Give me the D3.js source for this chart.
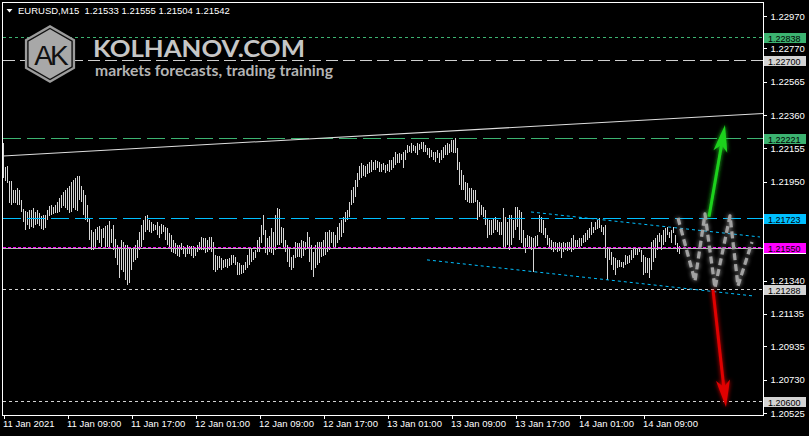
<!DOCTYPE html>
<html><head><meta charset="utf-8">
<script src="https://cdn.jsdelivr.net/npm/d3@7"></script>
<style>
html,body{margin:0;padding:0;background:#000;overflow:hidden}
text{font-family:"Liberation Sans",Arial,sans-serif}
</style></head>
<body>
<script>
// ---------- DATA ----------
const symbolTitle = "EURUSD,M15  1.21533 1.21555 1.21504 1.21542";
const brandName = "KOLHANOV.COM";
const brandTagline = "markets forecasts, trading training";

// M15 bar highs / lows (bar index 0 = 11 Jan 2021 first bar)
const highs = [
1.22188,1.22040,1.22047,1.21954,1.21954,1.21899,1.21899,1.21911,1.21899,1.21837,
1.21782,1.21769,1.21763,1.21776,1.21776,1.21788,1.21763,1.21776,1.21757,1.21739,
1.21745,1.21745,1.21776,1.21800,1.21806,1.21794,1.21806,1.21825,1.21849,1.21868,
1.21886,1.21899,1.21911,1.21923,1.21948,1.21960,1.21973,1.21985,1.21985,1.21923,
1.21899,1.21868,1.21806,1.21720,1.21652,1.21640,1.21659,1.21671,1.21677,1.21659,
1.21665,1.21677,1.21683,1.21708,1.21659,1.21683,1.21597,1.21560,1.21542,1.21591,
1.21578,1.21560,1.21560,1.21542,1.21542,1.21542,1.21560,1.21591,1.21640,1.21683,
1.21714,1.21739,1.21745,1.21714,1.21702,1.21689,1.21683,1.21702,1.21677,1.21689,
1.21683,1.21671,1.21665,1.21634,1.21622,1.21591,1.21572,1.21560,1.21560,1.21572,
1.21554,1.21542,1.21560,1.21554,1.21554,1.21554,1.21548,1.21560,1.21578,1.21609,
1.21603,1.21603,1.21591,1.21609,1.21609,1.21578,1.21498,1.21492,1.21492,1.21480,
1.21468,1.21474,1.21474,1.21480,1.21498,1.21498,1.21486,1.21455,1.21449,1.21437,
1.21437,1.21455,1.21498,1.21548,1.21542,1.21517,1.21529,1.21591,1.21609,1.21683,
1.21745,1.21652,1.21603,1.21615,1.21665,1.21640,1.21745,1.21788,1.21782,1.21671,
1.21665,1.21591,1.21560,1.21542,1.21486,1.21498,1.21578,1.21572,1.21572,1.21591,
1.21585,1.21578,1.21640,1.21609,1.21560,1.21517,1.21560,1.21578,1.21578,1.21578,
1.21591,1.21640,1.21640,1.21652,1.21640,1.21640,1.21622,1.21671,1.21695,1.21714,
1.21732,1.21763,1.21776,1.21825,1.21899,1.21917,1.21960,1.22003,1.22047,1.22065,
1.22053,1.22047,1.22059,1.22071,1.22084,1.22071,1.22084,1.22077,1.22071,1.22059,
1.22065,1.22053,1.22059,1.22084,1.22084,1.22102,1.22133,1.22120,1.22127,1.22120,
1.22133,1.22145,1.22176,1.22170,1.22188,1.22176,1.22170,1.22188,1.22182,1.22194,
1.22194,1.22176,1.22157,1.22157,1.22145,1.22133,1.22133,1.22145,1.22127,1.22145,
1.22164,1.22176,1.22188,1.22182,1.22207,1.22207,1.22219,1.22157,1.22071,1.22022,
1.21991,1.21948,1.21942,1.21911,1.21911,1.21899,1.21899,1.21837,1.21825,1.21806,
1.21794,1.21776,1.21726,1.21714,1.21714,1.21726,1.21732,1.21714,1.21702,1.21702,
1.21788,1.21732,1.21702,1.21745,1.21745,1.21714,1.21794,1.21794,1.21776,1.21763,
1.21652,1.21603,1.21622,1.21615,1.21609,1.21603,1.21615,1.21622,1.21745,1.21732,
1.21714,1.21665,1.21622,1.21603,1.21591,1.21578,1.21578,1.21572,1.21578,1.21572,
1.21578,1.21572,1.21578,1.21578,1.21603,1.21622,1.21591,1.21591,1.21603,1.21603,
1.21622,1.21634,1.21652,1.21665,1.21702,1.21671,1.21702,1.21714,1.21726,1.21683,
1.21671,1.21683,1.21548,1.21542,1.21517,1.21486,1.21480,1.21468,1.21468,1.21455,
1.21455,1.21498,1.21492,1.21498,1.21529,1.21548,1.21548,1.21542,1.21548,1.21529,
1.21498,1.21486,1.21480,1.21480,1.21578,1.21591,1.21603,1.21622,1.21634,1.21622,
1.21652,1.21665,1.21671,1.21640,1.21652,1.21671,1.21622,1.21572,1.21555
];
const lows = [
1.21973,1.21954,1.21942,1.21819,1.21806,1.21819,1.21819,1.21806,1.21806,1.21763,
1.21702,1.21652,1.21683,1.21659,1.21671,1.21665,1.21683,1.21689,1.21677,1.21659,
1.21652,1.21665,1.21714,1.21739,1.21745,1.21751,1.21757,1.21757,1.21763,1.21788,
1.21800,1.21788,1.21776,1.21757,1.21763,1.21788,1.21776,1.21769,1.21837,1.21825,
1.21745,1.21714,1.21702,1.21591,1.21529,1.21529,1.21548,1.21591,1.21572,1.21548,
1.21603,1.21548,1.21548,1.21542,1.21572,1.21529,1.21480,1.21437,1.21357,1.21406,
1.21394,1.21344,1.21314,1.21326,1.21406,1.21455,1.21468,1.21480,1.21529,1.21548,
1.21591,1.21640,1.21652,1.21640,1.21634,1.21646,1.21652,1.21622,1.21603,1.21628,
1.21640,1.21591,1.21560,1.21542,1.21517,1.21511,1.21505,1.21492,1.21486,1.21529,
1.21505,1.21486,1.21505,1.21505,1.21492,1.21480,1.21492,1.21517,1.21529,1.21529,
1.21529,1.21511,1.21517,1.21529,1.21517,1.21406,1.21394,1.21406,1.21418,1.21406,
1.21418,1.21424,1.21418,1.21431,1.21437,1.21449,1.21437,1.21375,1.21375,1.21381,
1.21388,1.21406,1.21418,1.21437,1.21455,1.21468,1.21480,1.21517,1.21517,1.21572,
1.21622,1.21511,1.21498,1.21517,1.21511,1.21498,1.21529,1.21560,1.21560,1.21572,
1.21542,1.21517,1.21455,1.21424,1.21406,1.21418,1.21480,1.21486,1.21486,1.21480,
1.21492,1.21529,1.21542,1.21455,1.21406,1.21363,1.21418,1.21437,1.21449,1.21486,
1.21492,1.21498,1.21517,1.21529,1.21572,1.21542,1.21542,1.21572,1.21591,1.21609,
1.21634,1.21702,1.21714,1.21732,1.21806,1.21819,1.21856,1.21917,1.21960,1.21973,
1.21985,1.21979,1.21997,1.22003,1.22010,1.22022,1.22022,1.22034,1.22010,1.22010,
1.22022,1.22003,1.22016,1.22010,1.22022,1.22034,1.22053,1.22065,1.22065,1.22084,
1.22034,1.22084,1.22127,1.22133,1.22127,1.22139,1.22127,1.22114,1.22145,1.22151,
1.22133,1.22133,1.22114,1.22096,1.22102,1.22084,1.22071,1.22096,1.22065,1.22084,
1.22096,1.22114,1.22114,1.22127,1.22133,1.22127,1.22127,1.22022,1.21930,1.21899,
1.21899,1.21837,1.21825,1.21819,1.21819,1.21819,1.21825,1.21714,1.21732,1.21745,
1.21732,1.21683,1.21603,1.21622,1.21622,1.21634,1.21652,1.21640,1.21622,1.21622,
1.21542,1.21542,1.21560,1.21529,1.21560,1.21603,1.21652,1.21671,1.21591,1.21572,
1.21548,1.21511,1.21548,1.21542,1.21529,1.21394,1.21542,1.21554,1.21640,1.21634,
1.21622,1.21603,1.21560,1.21542,1.21529,1.21517,1.21529,1.21517,1.21523,1.21480,
1.21517,1.21529,1.21523,1.21529,1.21517,1.21529,1.21542,1.21548,1.21548,1.21554,
1.21572,1.21578,1.21591,1.21603,1.21622,1.21634,1.21652,1.21659,1.21665,1.21640,
1.21622,1.21480,1.21344,1.21468,1.21437,1.21406,1.21375,1.21418,1.21424,1.21424,
1.21418,1.21437,1.21443,1.21449,1.21468,1.21480,1.21498,1.21498,1.21517,1.21455,
1.21375,1.21388,1.21388,1.21357,1.21406,1.21455,1.21480,1.21529,1.21578,1.21529,
1.21560,1.21578,1.21622,1.21603,1.21572,1.21634,1.21560,1.21517,1.21504
];

// time axis (bar index of each label, 32 bars = 8 hours)
const timeTickBars = [0,32,64,96,128,160,192,224,256,288,320];
const timeTickLabels = ["11 Jan 2021","11 Jan 09:00","11 Jan 17:00","12 Jan 01:00","12 Jan 09:00",
  "12 Jan 17:00","13 Jan 01:00","13 Jan 09:00","13 Jan 17:00","14 Jan 01:00","14 Jan 09:00"];

// price axis
const priceTicks = [1.22970,1.22770,1.22565,1.22360,1.22155,1.21950,1.21340,1.21135,1.20935,1.20730,1.20525];

// horizontal levels
const levels = [1.22838,1.22700,1.22221,1.21723,1.21550,1.21288,1.20600];
const bidPrice = 1.21542;

// trend line (top)
const trendBars = [0,376];
const trendPrices = [1.22108,1.22367];
// channel lines
const chanUpperBars = [264,378.5];
const chanUpperPrices = [1.21763,1.21609];
const chanLowerBars = [212,375];
const chanLowerPrices = [1.21468,1.21246];

// forecast zig-zag
const scenarioBars = [337.5,346,351,356,363.5,367.5,374.5];
const scenarioPrices = [1.21726,1.21338,1.21751,1.21295,1.21739,1.21308,1.21578];
// arrows
const upArrowBars = [353,361];
const upArrowPrices = [1.21733,1.22299];
const downArrowBars = [355,361.5];
const downArrowPrices = [1.21283,1.20562];

// ---------- STYLES ----------
const levelStyles = [
  {stroke:"#3cb371", dash:"3,3", box:"#3cb371"},
  {stroke:"#d0d0d0", dash:"12,5", box:"#d3d3d3"},
  {stroke:"#3cb371", dash:"18,6", box:"#3cb371"},
  {stroke:"#00bfff", dash:"18,6", box:"#00bfff"},
  {stroke:"#ff00ff", dash:"3,2", box:"#ff00ff"},
  {stroke:"#d3d3d3", dash:"3,3", box:"#d3d3d3"},
  {stroke:"#d3d3d3", dash:"3,3", box:"#d3d3d3"}
];

// ---------- CHART ----------
const W = 809, H = 436;
const L = 3, R = 763, T = 3, B = 415;
const svg = d3.select("body").append("svg").attr("width",W).attr("height",H)
  .style("background","#000").style("display","block");

const defs = svg.append("defs");
defs.append("clipPath").attr("id","clip").append("rect")
  .attr("x",L).attr("y",T).attr("width",R-L).attr("height",B-T);
const glow = defs.append("filter").attr("id","glow").attr("x","-50%").attr("y","-50%").attr("width","200%").attr("height","200%");
glow.append("feGaussianBlur").attr("in","SourceGraphic").attr("stdDeviation",2.2).attr("result","b");
const fm = glow.append("feMerge");
fm.append("feMergeNode").attr("in","b");
fm.append("feMergeNode").attr("in","SourceGraphic");

const x = d3.scaleLinear().domain([0,380]).range([3,763]);
const y = d3.scaleLinear().domain([1.22970,1.20525]).range([16,413]);
const px = v => Math.round(v) + 0.5;

const plot = svg.append("g").attr("clip-path","url(#clip)");

// logo
const logo = svg.append("g");
const hex = (cx,cy,r) => d3.range(6).map(k => {
  const a = Math.PI/3*k - Math.PI/2;
  return [cx + r*Math.cos(a), cy + r*Math.sin(a)];
});
logo.append("polygon").attr("points",hex(50,54,29).join(" ")).attr("fill","#9c9c9c");
logo.append("polygon").attr("points",hex(50,54,25.5).join(" ")).attr("fill","#a8a8a8")
  .attr("stroke","#111").attr("stroke-width",1.4);
logo.append("text").attr("x",50).attr("y",65).attr("text-anchor","middle")
  .attr("font-size",28).attr("fill","#111").attr("letter-spacing",-3)
  .style("font-family","'Liberation Sans',Arial,sans-serif").text("AK");
logo.append("text").attr("x",93).attr("y",56.5).attr("font-size",22).attr("font-weight",700)
  .attr("fill","#c6c6c6").attr("textLength",212).attr("lengthAdjust","spacingAndGlyphs")
  .style("font-family","Lato,sans-serif").text(brandName);
logo.append("text").attr("x",95).attr("y",76).attr("font-size",14.5).attr("font-weight",700)
  .attr("fill","#b4b4b4").attr("textLength",238).attr("lengthAdjust","spacingAndGlyphs")
  .style("font-family","Lato,sans-serif").text(brandTagline);

// bars
plot.append("g").selectAll("line").data(highs).join("line")
  .attr("x1",(d,i)=>px(x(i))).attr("x2",(d,i)=>px(x(i)))
  .attr("y1",d=>Math.round(y(d)))
  .attr("y2",(d,i)=>Math.max(Math.round(y(lows[i])), Math.round(y(d))+1))
  .attr("stroke","#d6d6d6").attr("stroke-width",1).attr("shape-rendering","crispEdges");

// level lines
plot.append("g").selectAll("line").data(levels).join("line")
  .attr("x1",L).attr("x2",R)
  .attr("y1",d=>px(y(d))).attr("y2",d=>px(y(d)))
  .attr("stroke",(d,i)=>levelStyles[i].stroke)
  .attr("stroke-dasharray",(d,i)=>levelStyles[i].dash)
  .attr("stroke-width",1).attr("shape-rendering","crispEdges");

// bid line
plot.append("line").attr("x1",L).attr("x2",R)
  .attr("y1",px(y(bidPrice))).attr("y2",px(y(bidPrice)))
  .attr("stroke","#b8b8b8").attr("stroke-width",1).attr("shape-rendering","crispEdges");

// trend line (ray to the right)
const tSlope = (trendPrices[1]-trendPrices[0])/(trendBars[1]-trendBars[0]);
const xEnd = x.invert(R);
plot.append("line")
  .attr("x1",x(trendBars[0])).attr("y1",y(trendPrices[0]))
  .attr("x2",x(xEnd)).attr("y2",y(trendPrices[0]+tSlope*(xEnd-trendBars[0])))
  .attr("stroke","#dedede").attr("stroke-width",1.1);

// channel lines
[[chanUpperBars,chanUpperPrices],[chanLowerBars,chanLowerPrices]].forEach(([bs,ps])=>{
  plot.append("line")
    .attr("x1",x(bs[0])).attr("y1",y(ps[0])).attr("x2",x(bs[1])).attr("y2",y(ps[1]))
    .attr("stroke","#00bfff").attr("stroke-width",1).attr("stroke-dasharray","3,3");
});

// forecast zig-zag
const zz = d3.line().x(d=>x(d[0])).y(d=>y(d[1]));
plot.append("path")
  .attr("d",zz(scenarioBars.map((b,i)=>[b,scenarioPrices[i]])))
  .attr("fill","none").attr("stroke","#a2a2a2").attr("stroke-width",3.2)
  .attr("stroke-dasharray","7,4").attr("stroke-linejoin","round")
  .attr("filter","url(#glow)");

// arrows
function arrow(bs, ps, color){
  const x0 = x(bs[0]), y0 = y(ps[0]), x1 = x(bs[1]), y1 = y(ps[1]);
  const dx = x1-x0, dy = y1-y0, len = Math.hypot(dx,dy);
  const ux = dx/len, uy = dy/len, nx = -uy, ny = ux;
  const headLen = 27, headW = 7, notch = 7;
  const bx = x1 - ux*headLen, by = y1 - uy*headLen;
  const g = plot.append("g").attr("filter","url(#glow)");
  g.append("line").attr("x1",x0).attr("y1",y0)
    .attr("x2",bx+ux*notch).attr("y2",by+uy*notch)
    .attr("stroke",color).attr("stroke-width",3);
  g.append("polygon").attr("points",[
      [x1,y1],[bx+nx*headW,by+ny*headW],[bx+ux*notch,by+uy*notch],[bx-nx*headW,by-ny*headW]
    ].join(" ")).attr("fill",color);
}
arrow(upArrowBars, upArrowPrices, "#1fd21f");
arrow(downArrowBars, downArrowPrices, "#e00000");

// frame
svg.append("rect").attr("x",2.5).attr("y",2.5).attr("width",R-2.5+0.5).attr("height",B-2.5+0.5)
  .attr("fill","none").attr("stroke","#fff").attr("stroke-width",1).attr("shape-rendering","crispEdges");

// right axis
const yAxis = d3.axisRight(y).tickValues(priceTicks).tickSize(3).tickPadding(4)
  .tickFormat(d3.format(".5f"));
const ya = svg.append("g").attr("transform",`translate(${R+0.5},0)`).call(yAxis);
ya.select(".domain").remove();
ya.selectAll("line").attr("stroke","#fff").attr("shape-rendering","crispEdges");
ya.selectAll("text").attr("fill","#fff").attr("font-size",9.5)
  .style("font-family","'Liberation Sans',Arial,sans-serif");

// price labels
const lbl = svg.append("g");
function priceBox(p, bg){
  const cy = Math.round(y(p));
  lbl.append("rect").attr("x",764).attr("y",cy-4).attr("width",42).attr("height",10)
    .attr("fill",bg);
  lbl.append("text").attr("x",768).attr("y",cy+4.5).attr("font-size",9)
    .attr("fill","#000").text(d3.format(".5f")(p));
}
priceBox(bidPrice,"#ffffff");
levels.forEach((p,i)=>priceBox(p, levelStyles[i].box));

// bottom axis
const xAxis = d3.axisBottom(x).tickValues(timeTickBars).tickSize(3).tickPadding(2)
  .tickFormat((d,i)=>timeTickLabels[i]);
const xa = svg.append("g").attr("transform",`translate(0.5,${B+0.5})`).call(xAxis);
xa.select(".domain").remove();
xa.selectAll("line").attr("stroke","#fff").attr("shape-rendering","crispEdges");
xa.selectAll("text").attr("fill","#fff").attr("font-size",9.5).attr("text-anchor","start")
  .attr("dx",-1).style("font-family","'Liberation Sans',Arial,sans-serif");

// header
svg.append("polygon").attr("points","6.5,9 12.5,9 9.5,12.5").attr("fill","#fff");
svg.append("text").attr("x",18).attr("y",14).attr("font-size",9.5).attr("fill","#fff")
  .attr("xml:space","preserve").style("white-space","pre").text(symbolTitle);
</script>
</body></html>
